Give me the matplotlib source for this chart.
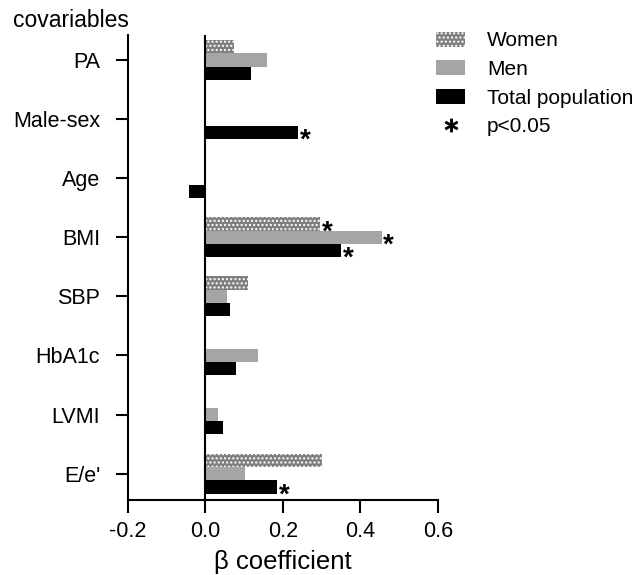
import matplotlib.pyplot as plt
import numpy as np
from matplotlib.patches import Patch
from matplotlib.lines import Line2D

plt.rcParams['font.family'] = ['Liberation Sans', 'DejaVu Sans']
plt.rcParams['hatch.color'] = 'white'
plt.rcParams['hatch.linewidth'] = 1.0

covariables = ['PA', 'Male-sex', 'Age', 'BMI', 'SBP', 'HbA1c', 'LVMI', "E/e'"]
women = [0.075, np.nan, np.nan, 0.297, 0.109, np.nan, np.nan, 0.302]
men = [0.158, np.nan, np.nan, 0.455, 0.055, 0.135, 0.032, 0.101]
total = [0.118, 0.240, -0.043, 0.351, 0.063, 0.080, 0.046, 0.185]
sig_women = [False, False, False, True, False, False, False, False]
sig_men = [False, False, False, True, False, False, False, False]
sig_total = [False, True, False, True, False, False, False, True]

y = np.arange(len(covariables))
h = 0.225

fig = plt.figure(figsize=(6.43, 5.75), dpi=100)
ax = fig.add_axes([0.199, 0.130, 0.482, 0.809])

bw = ax.barh(y - h, women, height=h, color='#7f7f7f', hatch='....', edgecolor='white', linewidth=0)
bm = ax.barh(y, men, height=h, color='#a5a5a5', linewidth=0)
bt = ax.barh(y + h, total, height=h, color='black', linewidth=0)

for vals, sig, off in [(women, sig_women, -h), (men, sig_men, 0), (total, sig_total, h)]:
    for i, (v, s) in enumerate(zip(vals, sig)):
        if s:
            ax.text(v + 0.004, i + off + 0.14, '*', fontsize=20, fontweight='bold',
                    ha='left', va='center')

ax.axvline(0, color='black', lw=1.5)
ax.set_xlim(-0.2, 0.6)
ax.set_ylim(len(covariables) - 0.55, -0.42)
ax.set_yticks(y)
ax.set_yticklabels(covariables, fontsize=15.5)
ax.set_xticks([-0.2, 0.0, 0.2, 0.4, 0.6])
ax.set_xticklabels(['-0.2', '0.0', '0.2', '0.4', '0.6'], fontsize=15.5)
ax.tick_params(axis='y', length=9, width=1.5, pad=11)
ax.tick_params(axis='x', length=9, width=1.5, pad=6)
for s in ['top', 'right']:
    ax.spines[s].set_visible(False)
for s in ['left', 'bottom']:
    ax.spines[s].set_linewidth(1.5)
ax.set_xlabel('β coefficient', fontsize=18.5, labelpad=6)
fig.text(0.02, 0.965, 'covariables', fontsize=16.5, ha='left', va='center')

handles = [Patch(facecolor='#7f7f7f', hatch='....', edgecolor='white', linewidth=0),
           Patch(facecolor='#a5a5a5'),
           Patch(facecolor='black'),
           Line2D([], [], ls='none', marker='$*$', color='black', markersize=9)]
ax.legend(handles, ['Women', 'Men', 'Total population', 'p<0.05'],
          loc='upper left', bbox_to_anchor=(0.649, 0.978), bbox_transform=fig.transFigure,
          frameon=False, fontsize=15, handlelength=1.4, handleheight=0.75,
          handletextpad=1.05, labelspacing=0.46)

fig.savefig('out.png', dpi=100)
